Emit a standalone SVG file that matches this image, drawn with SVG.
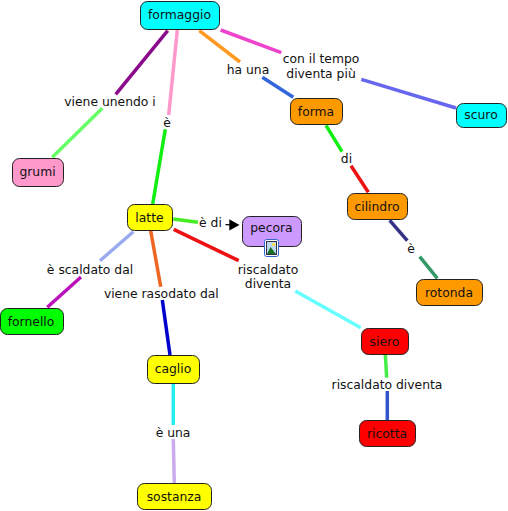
<svg xmlns="http://www.w3.org/2000/svg" width="508" height="511" viewBox="0 0 508 511">
<style>
text{font-family:"DejaVu Sans",Verdana,sans-serif;font-size:12.35px;fill:#111;text-anchor:middle}
.n{stroke:#222;stroke-width:1}
.c line{stroke-width:3.5;fill:none}
</style>
<rect width="508" height="511" fill="#fff"/>
<g id="connectors" class="c">
<line x1="167.7" y1="30.7" x2="115.7" y2="94.3" stroke="#8b0a8b"/>
<line x1="102.3" y1="108.3" x2="52.3" y2="157.3" stroke="#66ff66"/>
<line x1="177.3" y1="30" x2="168.7" y2="115" stroke="#ff99cc"/>
<line x1="165.3" y1="129.3" x2="152.7" y2="204" stroke="#11ee11"/>
<line x1="199.3" y1="30.7" x2="240" y2="62" stroke="#ff9922"/>
<line x1="220.7" y1="30" x2="281.3" y2="52.7" stroke="#ee44cc"/>
<line x1="262.3" y1="77.3" x2="293.3" y2="97.3" stroke="#3366dd"/>
<line x1="361.3" y1="79.3" x2="456" y2="108" stroke="#6666ee"/>
<line x1="326" y1="125.3" x2="342" y2="151.7" stroke="#11ee11"/>
<line x1="351" y1="165.7" x2="368.3" y2="192.3" stroke="#ee1111"/>
<line x1="389.7" y1="220.3" x2="407.3" y2="240.7" stroke="#333388"/>
<line x1="419.7" y1="256.7" x2="437.3" y2="278.3" stroke="#339966"/>
<line x1="173.3" y1="219" x2="198" y2="222.3" stroke="#44ee22"/>
<line x1="225.5" y1="224.7" x2="232" y2="224.8" stroke="#000" style="stroke-width:1.2"/>
<polygon points="229.3,219.3 239.5,225 229.3,230.5" fill="#000"/>
<line x1="173.7" y1="229.3" x2="238.7" y2="260.7" stroke="#ee1111"/>
<line x1="295.3" y1="291" x2="360.7" y2="327.7" stroke="#66ffff"/>
<line x1="133.3" y1="231.7" x2="100" y2="260.7" stroke="#99aaee"/>
<line x1="81" y1="277" x2="47.3" y2="307.3" stroke="#bb11bb"/>
<line x1="150.7" y1="230.7" x2="160.7" y2="286.7" stroke="#ee6622"/>
<line x1="162.3" y1="300" x2="170" y2="355" stroke="#0000cc"/>
<line x1="173.3" y1="384" x2="173.3" y2="425" stroke="#22eeee"/>
<line x1="173.3" y1="439" x2="174.3" y2="483" stroke="#ccaaee"/>
<line x1="385.3" y1="355" x2="386.7" y2="377.7" stroke="#44ee44"/>
<line x1="387.3" y1="391" x2="387.3" y2="420.3" stroke="#3355cc"/>
</g>
<g id="labels">
<text x="110" y="105.5">viene unendo i</text>
<text x="167" y="127">è</text>
<text x="248" y="74">ha una</text>
<text x="321" y="63">con il tempo</text>
<text x="321" y="78">diventa più</text>
<text x="346.5" y="163">di</text>
<text x="411" y="253">è</text>
<text x="210.5" y="227">è di</text>
<text x="268" y="274">riscaldato</text>
<text x="268" y="288">diventa</text>
<text x="90" y="274">è scaldato dal</text>
<text x="161.3" y="298">viene rasodato dal</text>
<text x="173" y="437">è una</text>
<text x="387" y="389">riscaldato diventa</text>
</g>
<g id="formaggio"><rect class="n" x="140.5" y="1.5" width="79" height="28" rx="7" fill="#00ffff"/><text x="179.5" y="19">formaggio</text></g>
<g id="grumi"><rect class="n" x="12.5" y="158.5" width="51" height="28" rx="7" fill="#ff99cc"/><text x="37.5" y="175.5">grumi</text></g>
<g id="latte"><rect class="n" x="127.5" y="204.5" width="45" height="26" rx="7" fill="#ffff00"/><text x="149.5" y="222">latte</text></g>
<g id="pecora"><rect class="n" x="242.5" y="216.5" width="59" height="30" rx="7" fill="#cc99ff"/><text x="271.5" y="231.5">pecora</text>
<rect x="264.5" y="239.5" width="14" height="17" rx="2" fill="#fff" stroke="#3366cc"/><rect x="266.5" y="241.5" width="10" height="13" fill="#bcd8f0" stroke="#334"/><circle cx="273.8" cy="244.5" r="1.6" fill="#ffdd33"/><polygon points="267,254 270.5,247 276,254" fill="#1a6e24"/></g>
<g id="forma"><rect class="n" x="290.5" y="98.5" width="52" height="26" rx="7" fill="#ff9900"/><text x="316" y="115.5">forma</text></g>
<g id="scuro"><rect class="n" x="456.5" y="103.5" width="50" height="24" rx="7" fill="#00ffff"/><text x="481" y="119">scuro</text></g>
<g id="cilindro"><rect class="n" x="347.5" y="193.5" width="60" height="26" rx="7" fill="#ff9900"/><text x="377" y="211">cilindro</text></g>
<g id="rotonda"><rect class="n" x="416.5" y="279.5" width="66" height="26" rx="7" fill="#ff9900"/><text x="449" y="297">rotonda</text></g>
<g id="siero"><rect class="n" x="361.5" y="328.5" width="47" height="26" rx="7" fill="#ff0000"/><text x="384.5" y="346">siero</text></g>
<g id="ricotta"><rect class="n" x="359.5" y="420.5" width="56" height="26" rx="7" fill="#ff0000"/><text x="387" y="438">ricotta</text></g>
<g id="fornello"><rect class="n" x="0.5" y="308.5" width="63" height="26" rx="7" fill="#00ff00"/><text x="31" y="326">fornello</text></g>
<g id="caglio"><rect class="n" x="147.5" y="355.5" width="52" height="28" rx="7" fill="#ffff00"/><text x="173" y="373">caglio</text></g>
<g id="sostanza"><rect class="n" x="137.5" y="483.5" width="74" height="26" rx="7" fill="#ffff00"/><text x="174" y="501">sostanza</text></g>
</svg>
